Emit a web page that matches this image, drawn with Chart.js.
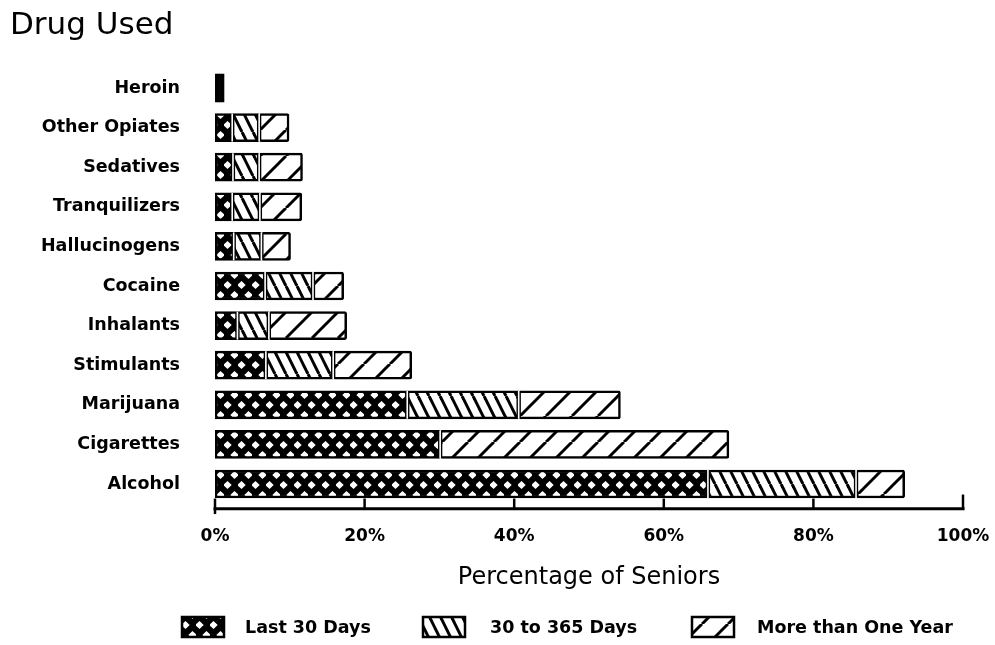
<!DOCTYPE html>
<html><head><meta charset="utf-8">
<script src="https://cdn.jsdelivr.net/npm/chart.js@4.4.0/dist/chart.umd.min.js"></script>
<style>html,body{margin:0;padding:0;background:#fff;}</style>
</head><body>
<canvas id="c" width="995" height="645"></canvas>
<script>
// ---- data ----
const categories = ['Heroin','Other Opiates','Sedatives','Tranquilizers','Hallucinogens','Cocaine','Inhalants','Stimulants','Marijuana','Cigarettes','Alcohol'];
const seriesLabels = ['Last 30 Days','30 to 365 Days','More than One Year'];
const last30Days   = [0.3, 2.3, 2.4, 2.3, 2.5, 6.7, 3.0, 6.8, 25.7, 30.1, 65.9];
const days30to365  = [0.3, 3.6, 3.5, 3.7, 3.7, 6.4, 4.2, 9.0, 14.9, null, 19.8];
const moreThanYear = [0.6, 4.0, 5.8, 5.6, 3.9, 4.1, 10.4, 10.5, 13.6, 38.6, 6.5];
const xTickValues  = [0, 20, 40, 60, 80, 100];
const xAxisTitle = 'Percentage of Seniors';
const chartTitle = 'Drug Used';

// ---- hatch patterns ----
function makePattern(type){
  const c = document.createElement('canvas');
  const g = c.getContext('2d');
  if(type === 'cross'){
    c.width = 14; c.height = 20;
    g.fillStyle = '#000'; g.fillRect(0,0,14,20);
    g.fillStyle = '#fff';
    const dia = (cx,cy)=>{ g.beginPath(); g.moveTo(cx-4.2,cy); g.lineTo(cx,cy-4); g.lineTo(cx+4.2,cy); g.lineTo(cx,cy+4); g.closePath(); g.fill(); };
    dia(3.5,5); dia(10.5,15);
  } else if(type === 'back'){
    c.width = 11; c.height = 22;
    g.fillStyle = '#fff'; g.fillRect(0,0,11,22);
    g.strokeStyle = '#000'; g.lineWidth = 3;
    for(const o of [-11,0,11]){ g.beginPath(); g.moveTo(o,0); g.lineTo(o+11,22); g.stroke(); }
  } else {
    c.width = 26; c.height = 26;
    g.fillStyle = '#fff'; g.fillRect(0,0,26,26);
    g.strokeStyle = '#000'; g.lineWidth = 3;
    for(const o of [-26,0,26]){ g.beginPath(); g.moveTo(o,26); g.lineTo(o+26,0); g.stroke(); }
  }
  return document.getElementById('c').getContext('2d').createPattern(c,'repeat');
}
const patterns = [makePattern('cross'), makePattern('back'), makePattern('slash')];
// very thin segments print as solid black
const isThin = ctx => ctx.raw != null && ctx.raw < 1;
const fillFor = i => (ctx => isThin(ctx) ? '#000' : patterns[i]);

const FONT = 'DejaVu Sans';

// white separators between adjacent segments
const gapPlugin = {
  id:'gaps',
  afterDatasetsDraw(chart){
    const ctx = chart.ctx;
    const x0 = chart.scales.x.getPixelForValue(0);
    ctx.save();
    ctx.fillStyle = '#fff';
    for(let d=1; d<chart.data.datasets.length; d++){
      chart.getDatasetMeta(d).data.forEach((el,i)=>{
        const v = chart.data.datasets[d].data[i];
        if(v == null) return;
        const p = el.getProps(['x','y','base','height'], true);
        if(p.base - x0 < 6 || Math.abs(p.x - p.base) < 6) return;
        ctx.fillRect(p.base - 0.8, p.y - p.height/2, 1.6, p.height);
      });
    }
    ctx.restore();
  }
};

// axis line with upward ticks
const axisPlugin = {
  id:'axisLine',
  afterDraw(chart){
    const ctx = chart.ctx, xs = chart.scales.x;
    const y = chart.chartArea.bottom + 5;
    ctx.save();
    ctx.strokeStyle = '#000'; ctx.lineWidth = 3; ctx.lineCap = 'square';
    ctx.beginPath();
    ctx.moveTo(xs.getPixelForValue(xTickValues[0]), y);
    ctx.lineTo(xs.getPixelForValue(xTickValues[xTickValues.length-1]), y);
    ctx.stroke();
    ctx.lineWidth = 2.5;
    xTickValues.forEach((v,i)=>{
      const px = xs.getPixelForValue(v);
      ctx.beginPath();
      if(i === 0){ ctx.moveTo(px, y+4); ctx.lineTo(px, y-9); }
      else if(i === xTickValues.length-1){ ctx.moveTo(px, y); ctx.lineTo(px, y-13); }
      else { ctx.moveTo(px, y); ctx.lineTo(px, y-9); }
      ctx.stroke();
    });
    ctx.restore();
  }
};

// legend drawn at the bottom with hatch boxes
const legendPlugin = {
  id:'hatchLegend',
  afterDraw(chart){
    const ctx = chart.ctx;
    const boxX = [182, 423, 692], textX = [245, 490, 757];
    const top = 617, bw = 42, bh = 20;
    ctx.save();
    chart.data.datasets.forEach((ds,i)=>{
      ctx.fillStyle = patterns[i];
      ctx.fillRect(boxX[i], top, bw, bh);
      ctx.strokeStyle = '#000'; ctx.lineWidth = 2.5;
      ctx.strokeRect(boxX[i], top, bw, bh);
      ctx.fillStyle = '#000';
      ctx.font = 'bold 17.5px "' + FONT + '"';
      ctx.textBaseline = 'middle'; ctx.textAlign = 'left';
      ctx.fillText(ds.label, textX[i], top + bh/2 + 1);
    });
    ctx.restore();
  }
};

new Chart(document.getElementById('c'), {
  type:'bar',
  data:{
    labels: categories,
    datasets:[
      {label: seriesLabels[0], data: last30Days,   backgroundColor: fillFor(0)},
      {label: seriesLabels[1], data: days30to365,  backgroundColor: fillFor(1)},
      {label: seriesLabels[2], data: moreThanYear, backgroundColor: fillFor(2)}
    ]
  },
  options:{
    indexAxis:'y',
    responsive:false,
    animation:false,
    devicePixelRatio:1,
    datasets:{bar:{barThickness:28, borderColor:'#000',
      borderWidth: ctx => isThin(ctx) ? 0 : 2.5,
      borderRadius: ctx => isThin(ctx) ? 0 : 2,
      borderSkipped:false}},
    layout:{padding:{left:10, right:32, top:0, bottom:52.6}},
    plugins:{
      legend:{display:false},
      tooltip:{enabled:false},
      title:{display:true, text:chartTitle, align:'start', color:'#000',
        font:{family:FONT, size:31, weight:'normal'}, padding:{top:7, bottom:24}}
    },
    scales:{
      x:{
        stacked:true, min:0, max:100,
        afterBuildTicks(s){ s.ticks = xTickValues.map(v=>({value:v})); },
        ticks:{color:'#000', font:{family:FONT, size:17, weight:'bold'}, padding:23, maxRotation:0, autoSkip:false,
          callback:v=>v+'%'},
        grid:{display:false, drawTicks:false},
        border:{display:false},
        title:{display:true, text:xAxisTitle, color:'#000', font:{family:FONT, size:24, weight:'normal'}, padding:{top:0,bottom:0}},
        afterFit(s){ s.height = 88.6; s.paddingLeft = 0; s.paddingRight = 0; }
      },
      y:{
        stacked:true,
        ticks:{color:'#000', font:{family:FONT, size:17.5, weight:'bold'}, padding:35},
        grid:{display:false, drawTicks:false},
        border:{display:false},
        afterFit(s){ s.width = 205; }
      }
    }
  },
  plugins:[gapPlugin, axisPlugin, legendPlugin]
});
</script>
</body></html>
